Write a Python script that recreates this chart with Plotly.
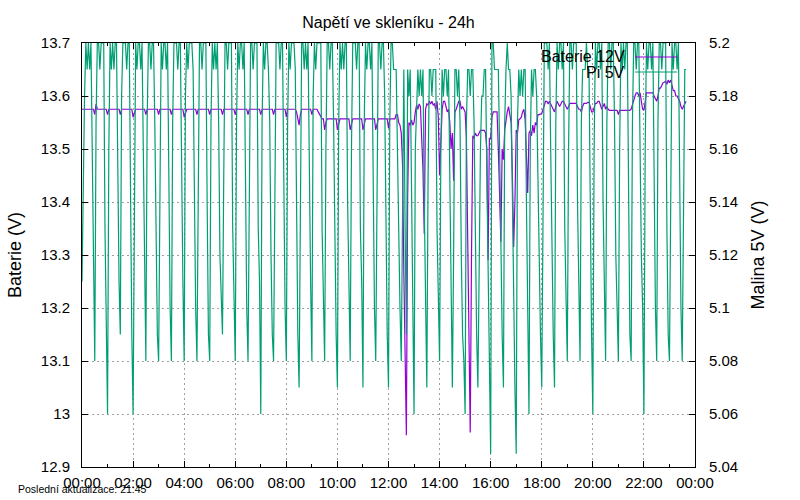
import pandas as pd
import plotly.graph_objects as go

# samples every 3 minutes from 00:00
# Pi 5V (right axis)
pi_5v_00_06 = [
    5.11, 5.15, 5.18, 5.2, 5.19, 5.2, 5.19, 5.2, 5.16, 5.11,
    5.08, 5.17, 5.2, 5.2, 5.19, 5.2, 5.2, 5.2, 5.13, 5.09,
    5.06, 5.16, 5.2, 5.19, 5.2, 5.19, 5.2, 5.2, 5.14, 5.11,
    5.09, 5.18, 5.2, 5.2, 5.2, 5.19, 5.2, 5.2, 5.13, 5.09,
    5.06, 5.13, 5.2, 5.19, 5.2, 5.2, 5.19, 5.2, 5.16, 5.12,
    5.08, 5.17, 5.2, 5.2, 5.19, 5.2, 5.2, 5.17, 5.12, 5.09,
    5.08, 5.16, 5.2, 5.19, 5.2, 5.2, 5.19, 5.2, 5.14, 5.1,
    5.08, 5.17, 5.2, 5.2, 5.2, 5.19, 5.2, 5.2, 5.15, 5.11,
    5.08, 5.18, 5.2, 5.19, 5.2, 5.2, 5.2, 5.19, 5.13, 5.1,
    5.08, 5.16, 5.2, 5.2, 5.19, 5.2, 5.2, 5.2, 5.14, 5.09,
    5.08, 5.17, 5.2, 5.19, 5.2, 5.19, 5.2, 5.17, 5.12, 5.1,
    5.09, 5.15, 5.2, 5.2, 5.19, 5.2, 5.2, 5.2, 5.13, 5.1,
]
pi_5v_06_12 = [
    5.08, 5.17, 5.2, 5.19, 5.2, 5.2, 5.19, 5.2, 5.14, 5.1,
    5.08, 5.16, 5.2, 5.2, 5.19, 5.2, 5.2, 5.2, 5.13, 5.11,
    5.06, 5.17, 5.2, 5.19, 5.2, 5.2, 5.19, 5.17, 5.12, 5.09,
    5.08, 5.15, 5.2, 5.2, 5.2, 5.19, 5.2, 5.2, 5.14, 5.1,
    5.08, 5.17, 5.2, 5.19, 5.2, 5.2, 5.2, 5.19, 5.13, 5.09,
    5.07, 5.16, 5.2, 5.2, 5.19, 5.2, 5.19, 5.2, 5.15, 5.11,
    5.08, 5.18, 5.2, 5.19, 5.2, 5.2, 5.2, 5.2, 5.13, 5.1,
    5.08, 5.16, 5.2, 5.2, 5.19, 5.2, 5.2, 5.17, 5.12, 5.09,
    5.07, 5.17, 5.2, 5.19, 5.2, 5.19, 5.2, 5.2, 5.14, 5.1,
    5.08, 5.16, 5.2, 5.2, 5.2, 5.19, 5.2, 5.2, 5.13, 5.11,
    5.07, 5.17, 5.2, 5.19, 5.2, 5.2, 5.19, 5.2, 5.15, 5.1,
    5.08, 5.16, 5.2, 5.2, 5.19, 5.2, 5.2, 5.18, 5.13, 5.09,
]
pi_5v_12_18 = [
    5.07, 5.17, 5.2, 5.2, 5.19, 5.19, 5.19, 5.16, 5.12, 5.1,
    5.08, 5.15, 5.19, 5.13, 5.09, 5.19, 5.18, 5.19, 5.14, 5.11,
    5.06, 5.16, 5.18, 5.19, 5.18, 5.19, 5.18, 5.19, 5.14, 5.1,
    5.07, 5.15, 5.19, 5.19, 5.18, 5.19, 5.19, 5.19, 5.13, 5.1,
    5.08, 5.16, 5.19, 5.18, 5.19, 5.19, 5.18, 5.19, 5.15, 5.09,
    5.07, 5.12, 5.19, 5.19, 5.18, 5.19, 5.17, 5.12, 5.09, 5.08,
    5.06, 5.17, 5.19, 5.19, 5.18, 5.19, 5.19, 5.17, 5.12, 5.09,
    5.07, 5.13, 5.16, 5.18, 5.18, 5.19, 5.19, 5.15, 5.11, 5.07,
    5.045, 5.2, 5.2, 5.19, 5.19, 5.19, 5.19, 5.16, 5.12, 5.09,
    5.07, 5.17, 5.19, 5.2, 5.19, 5.19, 5.18, 5.14, 5.09, 5.07,
    5.045, 5.17, 5.19, 5.18, 5.19, 5.18, 5.19, 5.19, 5.14, 5.1,
    5.06, 5.16, 5.19, 5.18, 5.19, 5.19, 5.18, 5.15, 5.11, 5.09,
]
pi_5v_18_24 = [
    5.07, 5.16, 5.2, 5.2, 5.2, 5.19, 5.2, 5.16, 5.12, 5.09,
    5.07, 5.17, 5.2, 5.19, 5.2, 5.2, 5.19, 5.2, 5.13, 5.1,
    5.08, 5.16, 5.2, 5.2, 5.19, 5.2, 5.2, 5.2, 5.14, 5.1,
    5.08, 5.17, 5.19, 5.19, 5.19, 5.2, 5.19, 5.19, 5.13, 5.09,
    5.06, 5.16, 5.2, 5.19, 5.2, 5.2, 5.19, 5.2, 5.14, 5.11,
    5.08, 5.17, 5.2, 5.2, 5.19, 5.2, 5.2, 5.17, 5.12, 5.1,
    5.08, 5.16, 5.2, 5.19, 5.2, 5.19, 5.2, 5.2, 5.13, 5.09,
    5.08, 5.17, 5.2, 5.2, 5.19, 5.2, 5.2, 5.15, 5.12, 5.1,
    5.06, 5.16, 5.2, 5.19, 5.2, 5.2, 5.19, 5.2, 5.14, 5.1,
    5.08, 5.17, 5.2, 5.2, 5.19, 5.2, 5.2, 5.2, 5.13, 5.09,
    5.08, 5.16, 5.2, 5.19, 5.2, 5.2, 5.19, 5.2, 5.14, 5.1,
    5.08, 5.15, 5.19, 5.19,
]

# Baterie 12V (left axis)
baterie_00_06 = [
    13.575, 13.575, 13.575, 13.575, 13.575, 13.575, 13.575, 13.575, 13.575, 13.575,
    13.565, 13.585, 13.575, 13.575, 13.575, 13.575, 13.575, 13.575, 13.575, 13.575,
    13.565, 13.575, 13.575, 13.575, 13.575, 13.575, 13.575, 13.575, 13.575, 13.575,
    13.565, 13.575, 13.575, 13.575, 13.575, 13.575, 13.575, 13.575, 13.575, 13.575,
    13.56, 13.57, 13.575, 13.575, 13.575, 13.575, 13.575, 13.575, 13.575, 13.575,
    13.565, 13.575, 13.575, 13.575, 13.575, 13.575, 13.575, 13.575, 13.575, 13.575,
    13.565, 13.575, 13.575, 13.575, 13.575, 13.575, 13.575, 13.575, 13.575, 13.575,
    13.565, 13.575, 13.575, 13.575, 13.575, 13.575, 13.575, 13.575, 13.575, 13.575,
    13.56, 13.57, 13.575, 13.575, 13.575, 13.575, 13.575, 13.575, 13.575, 13.575,
    13.565, 13.575, 13.575, 13.575, 13.575, 13.575, 13.575, 13.575, 13.575, 13.575,
    13.565, 13.575, 13.575, 13.575, 13.575, 13.575, 13.575, 13.575, 13.575, 13.575,
    13.565, 13.575, 13.575, 13.575, 13.575, 13.575, 13.575, 13.575, 13.575, 13.575,
]
baterie_06_12 = [
    13.565, 13.575, 13.575, 13.575, 13.575, 13.575, 13.575, 13.575, 13.575, 13.575,
    13.565, 13.575, 13.575, 13.575, 13.575, 13.575, 13.575, 13.575, 13.575, 13.575,
    13.565, 13.575, 13.575, 13.575, 13.575, 13.575, 13.575, 13.575, 13.575, 13.575,
    13.565, 13.575, 13.575, 13.575, 13.575, 13.575, 13.575, 13.575, 13.575, 13.575,
    13.56, 13.575, 13.575, 13.575, 13.575, 13.575, 13.575, 13.575, 13.57, 13.56,
    13.545, 13.565, 13.575, 13.575, 13.575, 13.575, 13.575, 13.575, 13.575, 13.575,
    13.565, 13.575, 13.575, 13.575, 13.575, 13.57, 13.565, 13.56, 13.557, 13.557,
    13.536, 13.55, 13.557, 13.557, 13.557, 13.557, 13.557, 13.557, 13.557, 13.557,
    13.536, 13.55, 13.557, 13.557, 13.557, 13.557, 13.557, 13.557, 13.557, 13.557,
    13.536, 13.55, 13.557, 13.557, 13.557, 13.557, 13.557, 13.557, 13.557, 13.557,
    13.536, 13.55, 13.557, 13.557, 13.557, 13.557, 13.557, 13.557, 13.557, 13.557,
    13.536, 13.55, 13.557, 13.557, 13.557, 13.557, 13.557, 13.557, 13.557, 13.557,
]
baterie_12_18 = [
    13.54, 13.557, 13.557, 13.557, 13.557, 13.557, 13.565, 13.565, 13.55, 13.545,
    13.53, 13.47, 13.27, 13.1, 12.96, 13.41, 13.55, 13.545, 13.555, 13.545,
    13.55, 13.57, 13.583, 13.575, 13.585, 13.58, 13.52, 13.46, 13.34, 13.575,
    13.585, 13.583, 13.59, 13.585, 13.59, 13.583, 13.585, 13.575, 13.59, 13.56,
    13.45, 13.5, 13.575, 13.59, 13.59, 13.58, 13.57, 13.575, 13.55, 13.5,
    13.53, 13.44, 13.57, 13.575, 13.585, 13.59, 13.59, 13.575, 13.58, 13.575,
    13.57, 13.52, 13.34, 13.06, 12.965, 13.3, 13.525, 13.52, 13.53, 13.525,
    13.525, 13.53, 13.535, 13.535, 13.535, 13.535, 13.53, 13.5, 13.29, 13.52,
    13.52, 13.56, 13.57, 13.57, 13.57, 13.57, 13.5, 13.39, 13.325, 13.5,
    13.48, 13.536, 13.56, 13.57, 13.58, 13.56, 13.55, 13.45, 13.315, 13.4,
    13.536, 13.53, 13.555, 13.557, 13.56, 13.57, 13.575, 13.555, 13.5, 13.417,
    13.53, 13.535, 13.525, 13.545, 13.53, 13.55, 13.545, 13.565, 13.565, 13.566,
]
baterie_18_24 = [
    13.567, 13.575, 13.585, 13.59, 13.59, 13.585, 13.59, 13.585, 13.58, 13.575,
    13.57, 13.58, 13.59, 13.585, 13.58, 13.585, 13.59, 13.59, 13.585, 13.58,
    13.575, 13.58, 13.586, 13.586, 13.586, 13.586, 13.586, 13.586, 13.58, 13.575,
    13.575, 13.57, 13.58, 13.586, 13.586, 13.586, 13.588, 13.588, 13.58, 13.57,
    13.57, 13.58, 13.586, 13.586, 13.59, 13.59, 13.58, 13.575, 13.58, 13.586,
    13.575, 13.58, 13.575, 13.573, 13.573, 13.573, 13.573, 13.573, 13.573, 13.573,
    13.565, 13.573, 13.573, 13.573, 13.573, 13.573, 13.573, 13.573, 13.573, 13.573,
    13.575, 13.585, 13.59, 13.6, 13.606, 13.606, 13.6, 13.606, 13.59, 13.575,
    13.573, 13.59, 13.606, 13.606, 13.606, 13.605, 13.606, 13.606, 13.6, 13.595,
    13.59, 13.6, 13.615, 13.615, 13.62, 13.625, 13.626, 13.628, 13.622, 13.63,
    13.625, 13.63, 13.62, 13.61, 13.61, 13.6, 13.6, 13.595, 13.59, 13.58,
    13.575, 13.58, 13.585, 13.59,
]

pi_5v = pi_5v_00_06 + pi_5v_06_12 + pi_5v_12_18 + pi_5v_18_24
baterie = baterie_00_06 + baterie_06_12 + baterie_12_18 + baterie_18_24
times = pd.date_range("2024-05-01 00:00", periods=len(pi_5v), freq="3min")

PURPLE = "#9400d3"
GREEN = "#009e73"
FONT = "Liberation Sans, Arial, sans-serif"

fig = go.Figure()
fig.add_trace(go.Scatter(x=times, y=baterie, mode="lines", name="Baterie 12V",
                         line=dict(color=PURPLE, width=1.2)))
fig.add_trace(go.Scatter(x=times, y=pi_5v, mode="lines", name="Pi 5V", yaxis="y2",
                         line=dict(color=GREEN, width=1.2)))

grid = dict(showgrid=True, gridcolor="#a0a0a0", griddash="2px,3px", gridwidth=1)
fig.update_layout(
    width=800, height=500,
    margin=dict(l=82, r=105, t=43, b=33, autoexpand=False),
    paper_bgcolor="white", plot_bgcolor="white",
    font=dict(family=FONT, size=15, color="black"),
    showlegend=False,
    title=dict(text="Napětí ve skleníku - 24h", x=0.5, xref="paper", y=0.956,
               yref="container", xanchor="center", yanchor="middle",
               font=dict(size=16)),
    xaxis=dict(type="date", range=["2024-05-01 00:00", "2024-05-02 00:00"],
               dtick=2 * 3600 * 1000, tickformat="%H:%M", automargin=False,
               ticks="inside", ticklen=6, tickcolor="black",
               minor=dict(dtick=3600 * 1000, ticks="inside", ticklen=3,
                          tickcolor="black", showgrid=False),
               showline=True, linecolor="black", linewidth=1, mirror="ticks",
               zeroline=False, ticklabelstandoff=2, **grid),
    yaxis=dict(range=[12.9, 13.7], dtick=0.1, ticks="inside", ticklen=6,
               tickcolor="black", showline=True, linecolor="black", linewidth=1,
               zeroline=False, ticklabelstandoff=8, automargin=False,
               title=dict(text="Baterie (V)", standoff=14), **grid),
    yaxis2=dict(range=[5.04, 5.2], dtick=0.02, overlaying="y", side="right",
                ticks="inside", ticklen=6, tickcolor="black", showline=True,
                linecolor="black", linewidth=1, showgrid=False, zeroline=False,
                ticklabelstandoff=10, automargin=False,
                title=dict(text="Malina 5V (V)", standoff=14)),
)

# gnuplot style key: text right aligned, sample line to the right
key = [("Baterie 12V", PURPLE, 0.967), ("Pi 5V", GREEN, 0.9316)]
for label, color, ky in key:
    fig.add_annotation(text=label, xref="paper", yref="paper", x=0.889, y=ky,
                       xanchor="right", yanchor="middle", showarrow=False,
                       font=dict(size=16, color="black"))
    fig.add_shape(type="line", xref="paper", yref="paper", x0=0.902, x1=0.971,
                  y0=ky, y1=ky, line=dict(color=color, width=1.2))

fig.add_annotation(text="Poslední aktualizace: 21:45", xref="paper", yref="paper",
                   x=-0.108, y=-0.052, xanchor="left", yanchor="middle",
                   showarrow=False, font=dict(size=10.5, color="black"))

fig.write_html("out.html", config={"displayModeBar": False},
               post_script="document.body.style.margin='0px';")
